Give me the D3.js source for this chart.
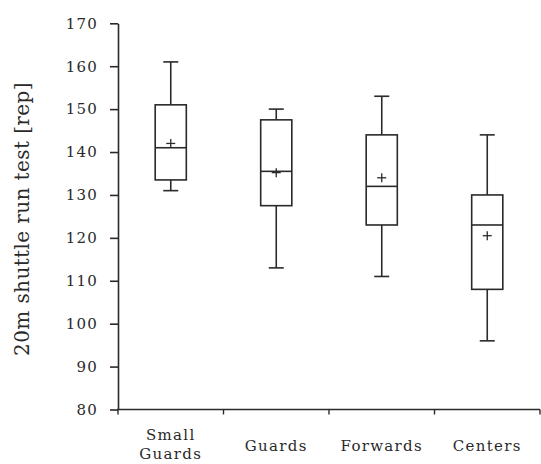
<!DOCTYPE html>
<html>
<head>
<meta charset="utf-8">
<script src="https://cdn.jsdelivr.net/npm/d3@7/dist/d3.min.js"></script>
<style>
  html, body { margin: 0; padding: 0; background: #fff; }
  svg { display: block; }
  text { font-family: "DejaVu Serif", "Liberation Serif", serif; fill: #2a2a2a; }
</style>
</head>
<body>
<svg id="chart" width="541" height="464"></svg>
<script>
// Player positions and their shuttle-run summary statistics
const positions = ["Small Guards", "Guards", "Forwards", "Centers"];
const whiskerLow  = [131, 113, 111, 96];
const quartile1   = [133.5, 127.5, 123, 108];
const medians     = [141, 135.5, 132, 123];
const quartile3   = [151, 147.5, 144, 130];
const whiskerHigh = [161, 150, 153, 144];
const means       = [142, 135.2, 134, 120.5];
const yTicks = [80, 90, 100, 110, 120, 130, 140, 150, 160, 170];
const axisTitle = "20m shuttle run test [rep]";

const ink = "#2a2a2a";
const svg = d3.select("#chart");

const x = d3.scaleBand().domain(positions).range([118, 540]).padding(0);
const y = d3.scaleLinear().domain([80, 170]).range([409.5, 23.3]);

// Y axis
const yAxis = svg.append("g")
  .attr("transform", "translate(118,0)")
  .call(d3.axisLeft(y).tickValues(yTicks).tickSize(8).tickSizeOuter(0).tickPadding(12));
yAxis.select(".domain").attr("stroke", ink).attr("stroke-width", 1.6);
yAxis.selectAll(".tick line").attr("stroke", ink).attr("stroke-width", 1.6);
yAxis.selectAll(".tick text")
  .attr("fill", ink)
  .style("font-family", '"DejaVu Serif", serif')
  .style("font-size", "15px")
  .style("letter-spacing", "1.2px");

// X axis: baseline with downward ticks at category boundaries
const xAxis = svg.append("g").attr("transform", `translate(0,${y(80)})`);
xAxis.append("line")
  .attr("x1", x.range()[0] - 1).attr("x2", x.range()[1])
  .attr("stroke", ink).attr("stroke-width", 1.6);
const boundaries = positions.map(p => x(p)).concat([x.range()[1]]);
xAxis.selectAll("line.bound").data(boundaries).join("line")
  .attr("class", "bound")
  .attr("x1", d => d).attr("x2", d => d)
  .attr("y1", 0).attr("y2", 5)
  .attr("stroke", ink).attr("stroke-width", 1.4);

// Category labels (split into lines on spaces for two-word names)
const labels = svg.append("g");
positions.forEach(p => {
  const cx = x(p) + x.bandwidth() / 2;
  const words = p.split(" ");
  const t = labels.append("text")
    .attr("text-anchor", "middle")
    .style("font-size", "15px")
    .style("letter-spacing", "1.3px");
  if (words.length > 1) {
    words.forEach((w, i) => {
      t.append("tspan").attr("x", cx).attr("y", 440 + i * 19).text(w);
    });
  } else {
    t.attr("x", cx).attr("y", 451).text(p);
  }
});

// Y axis title
svg.append("text")
  .attr("transform", "translate(28.5,219) rotate(-90)")
  .attr("text-anchor", "middle")
  .style("font-size", "20px")
  .style("letter-spacing", "0.4px")
  .text(axisTitle);

// Box plots
const boxW = x.bandwidth() * 0.295;
const capW = 15;
const plusW = 9;
const data = positions.map((p, i) => ({
  p, lo: whiskerLow[i], q1: quartile1[i], med: medians[i],
  q3: quartile3[i], hi: whiskerHigh[i], mean: means[i]
}));

const boxes = svg.append("g").selectAll("g").data(data).join("g")
  .attr("transform", d => `translate(${x(d.p) + x.bandwidth() / 2},0)`)
  .attr("stroke", ink).attr("fill", "none").attr("stroke-width", 1.6);

// whiskers
boxes.append("line").attr("x1", 0).attr("x2", 0)
  .attr("y1", d => y(d.hi)).attr("y2", d => y(d.q3));
boxes.append("line").attr("x1", 0).attr("x2", 0)
  .attr("y1", d => y(d.q1)).attr("y2", d => y(d.lo));
// caps
boxes.append("line").attr("x1", -capW / 2).attr("x2", capW / 2)
  .attr("y1", d => y(d.hi)).attr("y2", d => y(d.hi));
boxes.append("line").attr("x1", -capW / 2).attr("x2", capW / 2)
  .attr("y1", d => y(d.lo)).attr("y2", d => y(d.lo));
// box
boxes.append("rect")
  .attr("x", -boxW / 2).attr("width", boxW)
  .attr("y", d => y(d.q3)).attr("height", d => y(d.q1) - y(d.q3));
// median
boxes.append("line").attr("x1", -boxW / 2).attr("x2", boxW / 2)
  .attr("y1", d => y(d.med)).attr("y2", d => y(d.med));
// mean marker (+)
boxes.append("line").attr("x1", -plusW / 2).attr("x2", plusW / 2)
  .attr("y1", d => y(d.mean)).attr("y2", d => y(d.mean)).attr("stroke-width", 1.3);
boxes.append("line").attr("x1", 0).attr("x2", 0)
  .attr("y1", d => y(d.mean) - plusW / 2).attr("y2", d => y(d.mean) + plusW / 2)
  .attr("stroke-width", 1.3);
</script>
</body>
</html>
